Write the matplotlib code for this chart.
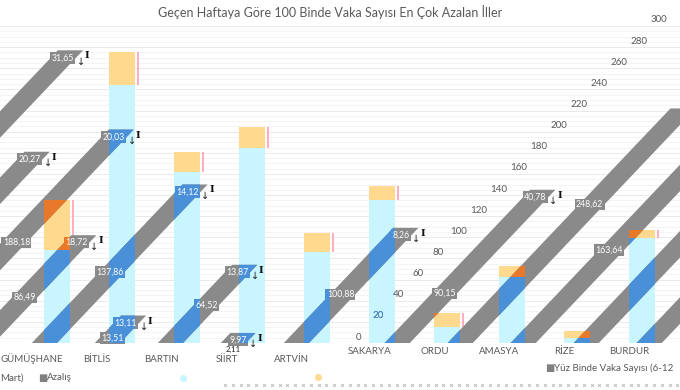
import numpy as np
import matplotlib
matplotlib.use("Agg")
import matplotlib.pyplot as plt
from matplotlib.transforms import Affine2D, IdentityTransform
from matplotlib.patches import Rectangle
from matplotlib.lines import Line2D

plt.rcParams['font.family'] = ['Lato', 'DejaVu Sans']

# ---------------- data ----------------
baslik = "Geçen Haftaya Göre 100 Binde Vaka Sayısı En Çok Azalan İller"
iller = ["GÜMÜŞHANE", "BİTLİS", "BARTIN", "SİİRT", "ARTVİN",
         "SAKARYA", "ORDU", "AMASYA", "RİZE", "BURDUR"]
vaka = [88, 244, 162, 185, 86, 135, 15, 62, 5, 99]          # cyan bars
azalis = [47, 31, 19, 19, 18, 14, 13, 11, 6, 8]             # yellow stacked part

# sheared (ghost) layer
serit_sira = list(range(-4, 10))
serit_deger = [277, 181, 202, 102, 150, 26, 74, 9.5, 109, 145, 222, 200, 200, 200]
serit_etiket = ["31,65", "20,27", "20,03", "18,72", "14,12", "13,11", "13,87",
                "9,97", "8,26", "40,78", "", "", "", ""]
iz_sira = [-2, -1, 0, 1, 2, 4, 5, 6, 7]
iz_deger = [95, 43, 67, 5, 36, 46, 47, 131, 88]
iz_etiket = ["188,18", "86,49", "137,86", "13,51", "64,52", "100,88", "90,15",
             "248,62", "163,64"]
alt_etiket = "2,11"
eksen_degerleri = list(range(0, 301, 20))
seri_adlari = ["Yüz Binde Vaka Sayısı (6-12", "Mart)", "Azalış"]

# ---------------- styles ----------------
CYAN = '#c9f6fe'
YELLOW = '#ffd98e'
GRAY = '#8a8a8a'
BLUE = '#4a90d9'
ORANGE = '#e8782a'
PINK = '#ffa0b6'
TXT = '#595959'

W, H = 680, 390
fig = plt.figure(figsize=(6.8, 3.9), dpi=100)
fig.patch.set_facecolor('white')
y0 = 47
hpx = 317
ax = fig.add_axes([0, y0 / H, 1, hpx / H])
ax2 = fig.add_axes([0, y0 / H, 1, hpx / H])
for a in (ax, ax2):
    a.set_ylim(0, 300)
    a.axis('off')
    a.set_autoscale_on(False)
ax.set_xlim(-56.5 / 65, (680 - 56.5) / 65)
ax2.set_xlim(-44.4 / 63, (680 - 44.4) / 63)

# grid
for v in np.arange(0, 306, 5):
    ax.axhline(v, color='#f2f2f2' if v % 20 else '#e6e6e6', lw=0.6, zorder=0)

x = np.arange(len(iller))
cyan_bars = ax.bar(x, vaka, width=0.4, color=CYAN, zorder=2, lw=0)
yel_bars = ax.bar(x, azalis, bottom=vaka, width=0.4, color=YELLOW, zorder=2, lw=0)
ax.vlines(x + 0.25, vaka, np.add(vaka, azalis), color=PINK, lw=1.2, zorder=3)

# shear transform (display space)
S = Affine2D(np.array([[1, 0.95, -0.95 * y0], [0, 1, 0], [0, 0, 1]]))
T = ax2.transData + S

sira = np.array(serit_sira)
xs = sira + 0.6 * (sira >= 5)

for xi, h in zip(xs, serit_deger):
    r = Rectangle((xi - 0.2, 0), 0.4, h, facecolor=GRAY, lw=0, transform=T)
    ax2.add_patch(r)
for clipset, col in ((cyan_bars, BLUE), (yel_bars, ORANGE)):
    for cb in clipset:
        for xi, h in zip(xs, serit_deger):
            r = Rectangle((xi - 0.2, 0), 0.4, h, facecolor=col, lw=0, transform=T)
            r.set_clip_path(cb.get_path(), cb.get_transform())
            ax2.add_patch(r)

fig.canvas.draw()
ID = IdentityTransform()


def etiket(px, py, s, fc=GRAY, ha='right', color='white', fs=6.3, box=True):
    kw = dict(ha=ha, va='center', fontsize=fs, transform=ID, zorder=10)
    bb = dict(boxstyle='square,pad=0.15', fc=fc, ec='none') if box else None
    fig.text(px, py, s, color=color, bbox=bb, **kw)
    for clipset, col in ((cyan_bars, BLUE), (yel_bars, ORANGE)):
        for cb in clipset:
            cx = ax.transData.transform((cb.get_x() + cb.get_width() / 2, 0))[0]
            if abs(cx - px) < 45:
                if box:
                    t = fig.text(px, py, s, color=color,
                                 bbox=dict(boxstyle='square,pad=0.15', fc=col, ec='none'), **kw)
                else:
                    t = fig.text(px, py, s, color=col, **kw)
                t.set_clip_path(cb)   # rectangle -> clip box (works for text too)


# top labels with arrows and caps
for xi, h, s in zip(xs, serit_deger, serit_etiket):
    if not s:
        continue
    top = T.transform((xi + 0.2, h))
    p = T.transform((xi + 0.2, h - 7))
    etiket(max(p[0] - 2, 30), p[1], s)
    fig.text(p[0] + 5, p[1] - 4, '↓', fontsize=7, color='#222222', ha='center', va='center',
             transform=ID, family='DejaVu Sans', zorder=11)
    fig.text(top[0] + 4, top[1] - 1, 'I', fontsize=7, color='#111111', ha='center', va='top',
             transform=ID, family='DejaVu Serif', weight='bold', zorder=11)

# trail labels
for k, v, s in zip(iz_sira, iz_deger, iz_etiket):
    xi = k + 0.6 * (k >= 5)
    p = T.transform((xi + 0.2, v))
    etiket(max(p[0] - 1, 30), p[1], s)

# label under SİİRT ghost
k3 = xs[list(serit_sira).index(3)]
p = T.transform((k3, 0))
fig.text(p[0], H - 349, alt_etiket, fontsize=5.5, color='#222222', ha='center', va='center',
         transform=ID)

# sheared axis tick labels
for v in eksen_degerleri:
    p = T.transform((4.978, v))
    etiket(p[0], p[1] + 6, str(v), ha='center', color=TXT, fs=7, box=False)

# category labels
for i, il in enumerate(iller):
    px = ax.transData.transform((i, 0))[0]
    if i < 5:
        fig.text(px - 25, H - 359, il, ha='center', va='center', fontsize=7, color=TXT,
                 transform=ID)
    else:
        fig.text(px - 12, H - 351, il, ha='center', va='center', fontsize=7, color=TXT,
                 transform=ID)

# title
fig.text(330, H - 12, baslik, ha='center', va='center', fontsize=9, color=TXT, transform=ID)

# legend
fig.text(545, H - 368, '■', fontsize=7, color='#808080', va='center', transform=ID)
fig.text(554, H - 368, seri_adlari[0], fontsize=7, color=TXT, va='center', transform=ID)
fig.text(0, H - 378, seri_adlari[1], fontsize=7, color=TXT, va='center', transform=ID)
fig.text(38, H - 378, '■', fontsize=7, color='#808080', va='center', transform=ID)
fig.text(47, H - 378, seri_adlari[2], fontsize=7, color=TXT, va='center', transform=ID)
fig.add_artist(Line2D([183], [H - 378], marker='o', ms=4, color=CYAN, ls='none', transform=ID))
fig.add_artist(Line2D([318], [H - 377], marker='o', ms=4, color=YELLOW, ls='none', transform=ID))
xx = np.arange(225, 680, 7.8)
fig.add_artist(Line2D(xx, np.full(len(xx), H - 385), marker='x', ms=2, mew=0.6,
                      color='#b5b5b5', ls='none', transform=ID))

fig.savefig('out.png', dpi=100)
